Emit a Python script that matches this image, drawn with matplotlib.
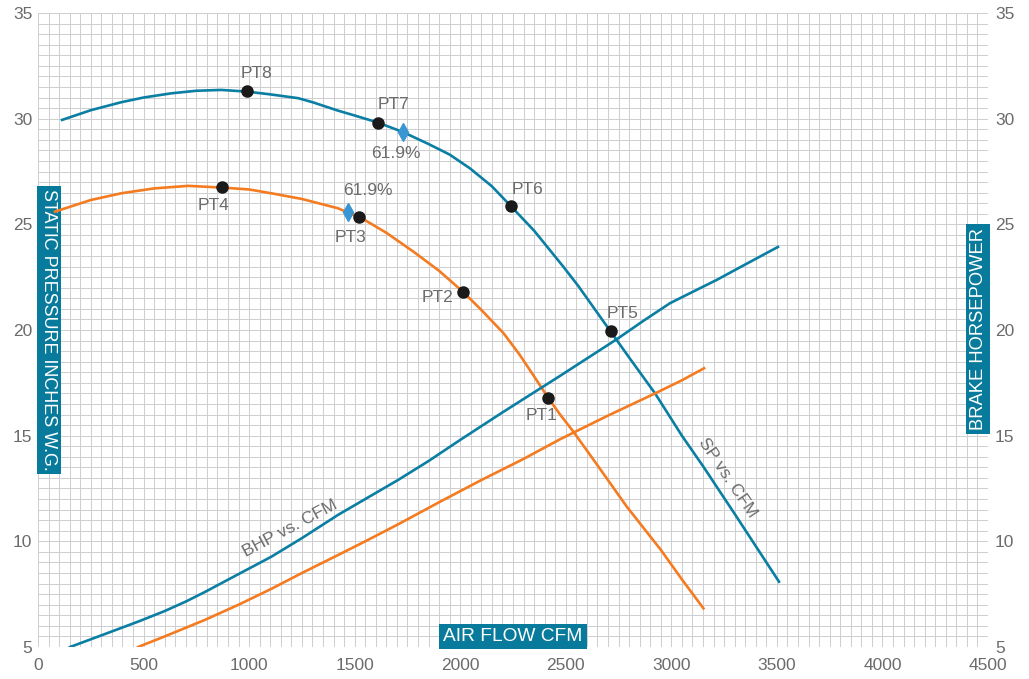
"""
Curva de desempenho do ventilador: pressão estática e potência vs. vazão.
"""
import matplotlib
matplotlib.use('Agg')
import matplotlib.pyplot as plt
from matplotlib.ticker import MultipleLocator

# Pressão estática (SP) - curva azul
sp_azul_cfm = [114, 250, 395, 500, 632, 750, 868, 990, 1100, 1232, 1300, 1421,
               1500, 1612, 1730, 1850, 1950, 2046, 2150, 2239, 2350, 2488,
               2558, 2713, 2800, 2923, 3050, 3152, 3300, 3510]
sp_azul = [29.94, 30.4, 30.78, 31.0, 31.2, 31.32, 31.36, 31.28, 31.15, 30.97, 30.78, 30.38,
           30.15, 29.81, 29.36, 28.8, 28.3, 27.65, 26.8, 25.87, 24.7, 23.0,
           22.1, 19.92, 18.7, 17.0, 15.0, 13.53, 11.3, 8.09]

# Pressão estática (SP) - curva laranja
sp_laranja_cfm = [80, 250, 395, 550, 711, 873, 1000, 1105, 1250, 1421, 1470, 1525,
                  1650, 1778, 1900, 2015, 2100, 2205, 2280, 2347, 2416, 2473,
                  2536, 2650, 2789, 2950, 3050, 3152]
sp_laranja = [25.6, 26.15, 26.47, 26.7, 26.82, 26.74, 26.65, 26.47, 26.2, 25.76, 25.55, 25.34,
              24.6, 23.71, 22.8, 21.79, 20.95, 19.85, 18.85, 17.85, 16.8, 16.0,
              15.19, 13.6, 11.64, 9.6, 8.2, 6.83]

# Potência (BHP)
bhp_azul_cfm = [152, 300, 474, 600, 700, 790, 950, 1105, 1250, 1421, 1550, 1705, 1850,
                2000, 2200, 2473, 2600, 2741, 2870, 2994, 3100, 3215, 3350, 3505]
bhp_azul = [5.0, 5.55, 6.2, 6.7, 7.15, 7.6, 8.45, 9.27, 10.15, 11.25, 12.0, 12.9, 13.8,
            14.8, 16.1, 17.83, 18.65, 19.56, 20.45, 21.27, 21.8, 22.37, 23.1, 23.93]
bhp_laranja_cfm = [474, 600, 790, 950, 1105, 1250, 1421, 1550, 1705, 1900, 2100,
                   2300, 2473, 2700, 2923, 3050, 3155]
bhp_laranja = [5.0, 5.5, 6.28, 7.0, 7.75, 8.5, 9.35, 10.0, 10.8, 11.85, 12.9,
               13.9, 14.83, 15.95, 17.0, 17.62, 18.19]

# Pontos de operação
pontos_nome = ['PT1', 'PT2', 'PT3', 'PT4', 'PT5', 'PT6', 'PT7', 'PT8']
pontos_cfm = [2416, 2012, 1522, 873, 2712, 2239, 1612, 990]
pontos_sp = [16.8, 21.8, 25.35, 26.76, 19.93, 25.87, 29.81, 31.3]
# deslocamento dos rótulos (pontos)
pontos_offset = [(-5, -13), (-18, -4), (-6, -15), (-6, -13),
                 (9, 13), (12, 12), (11, 13), (7, 13)]

# Eficiência máxima
efic_cfm = [1469, 1730]
efic_sp = [25.57, 29.38]
efic_texto = ['61.9%', '61.9%']
efic_offset = [(14, 16), (-5, -16)]

AZUL = '#0a7ea3'
LARANJA = '#f47b20'
CAIXA = '#087b9c'
CINZA = '#6b6b6b'
GRADE = '#cfcfd2'

plt.rcParams['font.family'] = ['Liberation Sans', 'DejaVu Sans']

fig = plt.figure(figsize=(10.29, 6.79), dpi=100)
ax = fig.add_axes([38 / 1029, 32 / 679, 950 / 1029, 634 / 679])
ax2 = ax.twinx()

for a in (ax, ax2):
    a.set_xlim(0, 4500)
    a.set_ylim(5, 35)
    for s in a.spines.values():
        s.set_visible(False)

ax.xaxis.set_major_locator(MultipleLocator(500))
ax.xaxis.set_minor_locator(MultipleLocator(50))
ax.yaxis.set_major_locator(MultipleLocator(5))
ax.yaxis.set_minor_locator(MultipleLocator(0.5))
ax2.yaxis.set_major_locator(MultipleLocator(5))
ax.grid(True, which='both', color=GRADE, linewidth=0.72)
ax.set_axisbelow(True)

ax.tick_params(axis='both', which='both', length=0, labelsize=12.5, labelcolor=CINZA)
ax.tick_params(axis='x', pad=8)
ax.tick_params(axis='y', pad=4)
ax2.tick_params(axis='y', length=0, labelsize=12.5, labelcolor=CINZA, pad=5)

# Curvas
ax.plot(sp_azul_cfm, sp_azul, color=AZUL, lw=1.9, zorder=3)
ax.plot(sp_laranja_cfm, sp_laranja, color=LARANJA, lw=1.9, zorder=3)
ax2.plot(bhp_azul_cfm, bhp_azul, color=AZUL, lw=1.9, zorder=3)
ax2.plot(bhp_laranja_cfm, bhp_laranja, color=LARANJA, lw=1.9, zorder=3)

# Pontos e rótulos
ax.plot(pontos_cfm, pontos_sp, 'o', color='#1a1a1a', ms=8, zorder=4)
for nome, x, y, off in zip(pontos_nome, pontos_cfm, pontos_sp, pontos_offset):
    ax.annotate(nome, (x, y), xytext=off, textcoords='offset points',
                ha='center', va='center', fontsize=12.5, color=CINZA, zorder=5)

ax.plot(efic_cfm, efic_sp, 'd', color='#3a96d2', ms=9, zorder=4)
for t, x, y, off in zip(efic_texto, efic_cfm, efic_sp, efic_offset):
    ax.annotate(t, (x, y), xytext=off, textcoords='offset points',
                ha='center', va='center', fontsize=12.5, color=CINZA, zorder=5)

# Rótulos das curvas
ax.text(1194, 10.63, 'BHP vs. CFM', rotation=28, ha='center', va='center',
        fontsize=12.5, color=CINZA, rotation_mode='anchor')
ax.text(3264, 13.0, 'SP vs. CFM', rotation=-56, ha='center', va='center',
        fontsize=12.5, color=CINZA, rotation_mode='anchor')

# Títulos dos eixos em caixas
caixa = dict(boxstyle='square,pad=0.2', fc=CAIXA, ec='none')
ax.text(52, 20.0, 'STATIC PRESSURE INCHES W.G.', rotation=-90, ha='center',
        va='center', fontsize=12.9, color='white', bbox=caixa, zorder=2)
ax.text(4453, 20.05, 'BRAKE HORSEPOWER', rotation=90, ha='center',
        va='center', fontsize=13.2, color='white', bbox=caixa, zorder=2)
ax.text(2250, 5.5, 'AIR FLOW CFM', ha='center', va='center',
        fontsize=13.8, color='white', bbox=caixa, zorder=2)

fig.savefig('out.png', dpi=100)
plt.close(fig)
